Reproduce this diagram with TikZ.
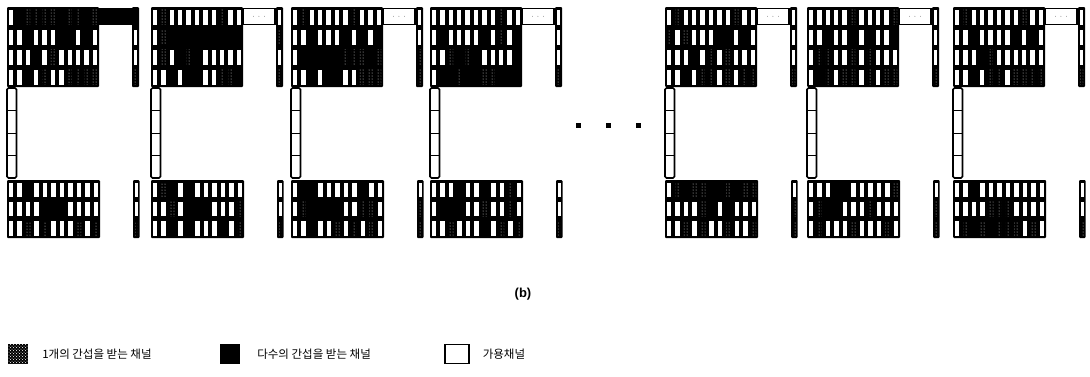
\documentclass[tikz,border=0pt]{standalone}
\usepackage{fontspec}
\setmainfont{Liberation Sans}
\newfontfamily\cjk{Noto Sans CJK KR}
\usetikzlibrary{patterns,positioning}
\tikzset{
  chband/.style={fill=black,rounded corners=1pt},
  chfree/.style={fill=white},
  chone/.style={pattern=dots,pattern color=white!85!black},
  chmid/.style={draw=black,line width=1.6pt,fill=white,rounded corners=1.5pt},
  chtick/.style={draw=black,line width=0.8pt},
  morebox/.style={draw=black,line width=1.4pt,fill=white,minimum width=32pt,
    minimum height=16pt,inner sep=0pt,font=\scriptsize},
  moredark/.style={morebox,fill=black},
  moredot/.style={fill=black,minimum size=5pt,inner sep=0pt},
  legicon/.style={draw=black,line width=1.2pt,minimum width=19pt,minimum height=19pt,inner sep=0pt},
  legtext/.style={font=\cjk\fontsize{11.5}{13}\selectfont,anchor=west,inner sep=0pt},
}
% one grid of channel cells: x, y, width, height, columns, rows, cell states
\newcommand\chgrid[7]{%
  \fill[chband] (#1,#2) rectangle ++(#3,#4);
  \foreach \row [count=\r] in {#7} {
    \foreach \c [count=\k] in \row {
      \ifcase\c\relax
        \fill[chfree] ({#1+(\k-1)*#3/#5+2},{#2+(\r-1)*#4/#6+2.5}) rectangle ++({#3/#5-4},{#4/#6-5});
      \or
        \fill[chone] ({#1+(\k-1)*#3/#5+2},{#2+(\r-1)*#4/#6+2.5}) rectangle ++({#3/#5-4},{#4/#6-5});
      \or
      \fi
    }
  }
}
% one block: name, x, top grid, bottom grid, right column, bottom column, box style
\newcommand\chblock[7]{%
  \chgrid{#2}{7}{92}{80}{11}{4}{#3}
  \chgrid{#2}{180}{93}{58}{11}{3}{#4}
  \chgrid{#2+125}{7}{7}{80}{1}{4}{#5}
  \chgrid{#2+126}{180}{6.5}{58}{1}{3}{#6}
  \draw[chmid] (#2,88) rectangle ({#2+9.5},178);
  \foreach \t in {110.5,133,155.5}
    \draw[chtick] (#2,\t) -- ({#2+9.5},\t);
  \node[#7] (#1-more) at ({#2+108},16.5) {$\cdot\,\cdot\,\cdot$};
}

\begin{document}
\begin{tikzpicture}[x=1pt,y=-1pt]
  \useasboundingbox (0,0) rectangle (1090,376);
  \fill[white] (0,0) rectangle (1090,376);
  % left blocks
  \chblock{blkA}{7}
    {{0,2,1,1,1,1,2,1,1,2,1},{0,0,2,0,0,0,2,2,0,2,0},{0,0,0,2,0,1,0,0,0,0,0},{0,0,2,0,1,0,0,1,1,1,1}}
    {{0,0,2,0,0,0,0,0,0,0,0},{0,0,0,0,2,2,2,0,0,0,0},{0,0,1,0,1,0,0,0,1,0,1}}
    {{2},{0},{0},{1}}{{0},{0},{1}}{moredark}
  \chblock{blkB}{151}
    {{0,1,0,0,0,0,0,0,1,0,0},{0,1,2,2,2,2,2,2,2,2,2},{0,1,0,2,1,2,0,0,0,0,0},{0,0,2,0,2,2,0,0,1,1,2}}
    {{0,1,2,0,2,0,0,0,0,0,0},{0,0,1,0,2,2,2,0,0,0,1},{0,0,2,0,2,0,0,0,2,0,1}}
    {{0},{1},{0},{1}}{{0},{0},{1}}{morebox}
  \chblock{blkC}{291}
    {{0,1,0,0,0,0,0,1,0,0,0},{0,0,2,0,0,0,2,0,2,0,2},{0,2,2,2,2,2,1,1,1,2,1},{0,0,2,0,2,2,0,0,1,1,1}}
    {{0,2,2,0,0,0,0,0,2,0,0},{0,1,2,2,2,2,0,0,1,1,0},{0,0,2,0,0,1,0,1,0,1,0}}
    {{0},{0},{1},{1}}{{0},{1},{1}}{morebox}
  \chblock{blkD}{430}
    {{0,0,0,0,0,0,0,0,1,0,0},{0,2,0,0,0,0,2,0,1,0,2},{0,0,1,2,1,2,0,0,0,0,2},{0,2,2,1,2,2,1,1,2,2,2}}
    {{0,0,0,2,0,0,2,0,0,1,0},{0,2,2,2,0,0,1,0,0,1,0},{0,0,1,0,0,0,2,0,1,0,1}}
    {{0},{0},{0},{1}}{{0},{0},{1}}{morebox}
  % gap
  \foreach \d [count=\i] in {578,608,638}
    \node[moredot] (dot\i) at (\d,125) {};
  % right blocks
  \chblock{blkE}{665}
    {{0,1,0,0,0,0,0,0,1,0,0},{1,0,1,0,0,0,2,2,0,2,0},{0,0,0,2,0,1,0,1,0,0,0},{0,0,2,0,1,1,0,1,0,1,1}}
    {{0,1,2,1,1,2,2,1,2,1,1},{0,0,0,0,1,2,0,2,0,0,0},{0,0,1,0,1,0,0,1,0,0,1}}
    {{0},{0},{0},{1}}{{0},{1},{1}}{morebox}
  \chblock{blkF}{807}
    {{0,0,0,0,0,1,0,0,0,0,1},{0,0,2,0,0,2,0,2,0,0,2},{0,1,1,0,0,1,0,1,0,0,0},{0,2,1,0,1,1,0,1,0,1,1}}
    {{0,0,0,2,2,0,0,0,0,0,1},{0,1,2,2,0,0,0,1,0,0,0},{0,1,0,0,0,1,0,0,0,1,0}}
    {{0},{0},{0},{1}}{{0},{1},{1}}{morebox}
  \chblock{blkG}{953}
    {{0,1,0,0,0,0,0,0,1,0,0},{0,0,2,0,0,0,0,2,0,2,0},{0,0,0,2,1,0,0,0,0,0,0},{0,0,2,0,1,1,0,1,1,1,1}}
    {{0,0,2,0,0,0,0,0,0,0,0},{0,0,0,0,1,1,1,0,0,0,0},{0,1,2,1,2,1,1,1,0,1,0}}
    {{0},{0},{0},{1}}{{0},{0},{1}}{morebox}
  % caption
  \node[font=\bfseries\fontsize{13}{15}\selectfont] (cap) at (523,294) {(b)};
  % legend
  \node[legicon,fill=black,postaction={pattern=crosshatch dots,pattern color=white}] (leg1) at (18,354) {};
  \node[legtext,right=14pt of leg1] (legtxt1) {1개의 간섭을 받는 채널};
  \node[legicon,fill=black] (leg2) at (230,354) {};
  \node[legtext,right=17pt of leg2] (legtxt2) {다수의 간섭을 받는 채널};
  \node[legicon,minimum width=24pt] (leg3) at (457,354) {};
  \node[legtext,right=13pt of leg3] (legtxt3) {가용채널};
\end{tikzpicture}
\end{document}
